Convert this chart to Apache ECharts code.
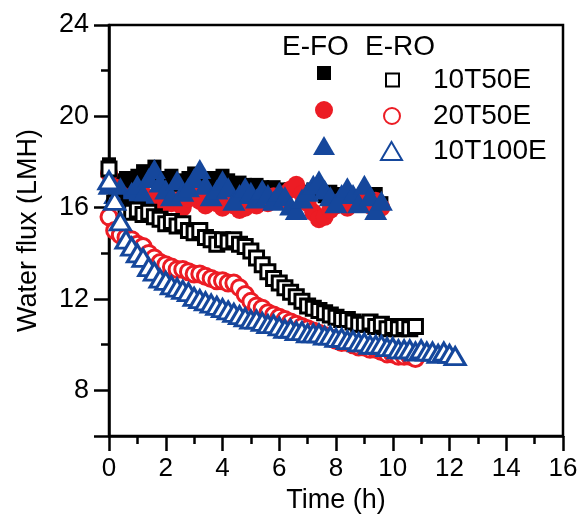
<!DOCTYPE html>
<html><head><meta charset="utf-8">
<script src="https://cdn.jsdelivr.net/npm/echarts@6/dist/echarts.min.js"></script>
<style>html,body{margin:0;padding:0;background:#fff}#c{width:583px;height:519px}</style>
</head><body><div id="c"></div>
<script>
const timeFO = [0,0.2,0.4,0.6,0.8,1.0,1.2,1.4,1.6,1.8,2.0,2.2,2.4,2.6,2.8,3.0,3.2,3.4,3.6,3.8,4.0,4.2,4.4,4.6,4.8,5.0,5.2,5.4,5.6,5.8,6.0,6.2,6.4,6.6,6.8,7.0,7.2,7.4,7.6,7.8,8.0,8.2,8.4,8.6,8.8,9.0,9.2,9.4,9.6];
const fo10T50E = [17.9,17.2,17.0,17.3,17.1,17.4,17.6,17.2,17.8,17.3,17.1,17.4,17.0,17.2,17.3,17.5,17.2,17.0,17.3,17.1,17.4,17.2,16.9,17.1,17.0,16.8,17.0,16.9,16.7,16.9,16.8,16.6,16.8,16.9,16.7,16.6,16.8,16.7,16.5,16.7,16.6,16.4,16.6,16.5,16.4,16.5,16.3,16.6,16.2];
const fo20T50E = [17.5,16.9,16.6,16.4,16.5,16.2,16.6,16.3,16.4,16.1,16.5,16.2,16.3,16.0,16.4,16.7,16.3,16.1,16.4,16.2,16.0,16.3,16.1,15.9,16.0,16.3,16.1,16.4,16.2,16.5,16.3,16.6,16.8,17.0,16.6,16.2,15.8,15.5,15.6,15.9,16.1,16.3,16.0,16.4,16.2,16.5,16.1,16.3,16.0];
const fo10T100E = [17.0,16.6,16.9,16.4,16.7,17.0,16.6,17.3,17.7,17.1,16.8,16.5,17.2,16.7,16.9,17.3,17.7,17.0,16.5,16.8,17.2,16.9,16.3,16.6,16.9,16.7,16.4,16.8,16.6,16.3,16.7,16.5,16.1,15.9,16.4,16.7,17.0,17.2,16.8,16.5,16.2,16.6,16.9,16.6,16.2,17.0,16.5,15.9,16.3];

const timeRO50 = [0,0.2,0.4,0.6,0.8,1.0,1.2,1.4,1.6,1.8,2.0,2.2,2.4,2.6,2.8,3.0,3.2,3.4,3.6,3.8,4.0,4.2,4.4,4.6,4.8,5.0,5.2,5.4,5.6,5.8,6.0,6.2,6.4,6.6,6.8,7.0,7.2,7.4,7.6,7.8,8.0,8.2,8.4,8.6,8.8,9.0,9.2,9.4,9.6,9.8,10.0,10.2,10.4,10.6,10.8];
const ro10T50E = [17.7,16.2,16.0,15.9,15.8,15.9,15.7,15.8,15.6,15.5,15.3,15.4,15.2,15.3,15.0,14.9,15.0,14.7,14.6,14.4,14.6,14.5,14.6,14.4,14.3,14.1,13.8,13.5,13.2,12.9,12.7,12.5,12.3,12.1,11.9,11.7,11.6,11.5,11.4,11.3,11.2,11.1,11.1,11.0,10.9,10.9,11.0,10.8,10.9,10.7,10.8,10.7,10.8,10.7,10.8];
const ro20T50E = [15.6,15.0,14.8,14.7,14.6,14.4,14.3,14.0,13.8,13.6,13.5,13.4,13.3,13.3,13.2,13.1,13.1,13.0,12.9,12.8,12.8,12.7,12.7,12.5,12.2,11.9,11.7,11.6,11.4,11.3,11.2,11.1,11.0,10.9,10.8,10.7,10.6,10.5,10.4,10.3,10.2,10.1,10.1,10.0,9.9,9.9,9.8,9.8,9.7,9.6,9.6,9.5,9.5,9.5,9.4];

const timeRO100 = [0,0.2,0.4,0.6,0.8,1.0,1.2,1.4,1.6,1.8,2.0,2.2,2.4,2.6,2.8,3.0,3.2,3.4,3.6,3.8,4.0,4.2,4.4,4.6,4.8,5.0,5.2,5.4,5.6,5.8,6.0,6.2,6.4,6.6,6.8,7.0,7.2,7.4,7.6,7.8,8.0,8.2,8.4,8.6,8.8,9.0,9.2,9.4,9.6,9.8,10.0,10.2,10.4,10.6,10.8,11.0,11.2,11.4,11.6,11.8,12.0,12.2];
const ro10T100E = [17.2,16.3,15.4,14.6,14.3,14.0,13.8,13.4,13.2,12.9,12.8,12.6,12.5,12.4,12.3,12.1,12.0,11.9,11.8,11.7,11.6,11.5,11.4,11.3,11.2,11.1,11.1,11.0,10.9,10.9,10.8,10.7,10.7,10.6,10.6,10.5,10.5,10.5,10.4,10.4,10.3,10.3,10.2,10.2,10.1,10.1,10.0,10.0,10.0,9.9,9.9,9.8,9.8,9.8,9.7,9.8,9.7,9.7,9.6,9.7,9.6,9.5];

const xTicks = [0,2,4,6,8,10,12,14,16];
const yMajorTicks = [6,8,12,16,20,24];
const yLabelTicks = [8,12,16,20,24];
const yMinorTicks = [10,14,18,22];
const legendLabels = ['10T50E','20T50E','10T100E'];

const BLACK = '#000000', RED = '#ec1c24', BLUE = '#15479c';
const FONT = 'Liberation Sans, Arial, sans-serif';

function pairs(t, v){ return t.map((x,i)=>[x, v[i]]); }

const seriesDefs = [
  {name:'E-FO 10T50E', t:timeFO, v:fo10T50E, symbol:'rect', size:14, color:BLACK, open:false},
  {name:'E-FO 20T50E', t:timeFO, v:fo20T50E, symbol:'circle', size:18, color:RED, open:false},
  {name:'E-FO 10T100E', t:timeFO, v:fo10T100E, symbol:'triangle', size:[23,20], color:BLUE, open:false},
  {name:'E-RO 10T50E', t:timeRO50, v:ro10T50E, symbol:'rect', size:14, color:BLACK, open:true},
  {name:'E-RO 20T50E', t:timeRO50, v:ro20T50E, symbol:'circle', size:16, color:RED, open:true},
  {name:'E-RO 10T100E', t:timeRO100, v:ro10T100E, symbol:'triangle', size:[20,17], color:BLUE, open:true}
];

const series = seriesDefs.map(d => ({
  type:'scatter', name:d.name, data:pairs(d.t, d.v),
  symbol:d.symbol, symbolSize:d.size, animation:false,
  itemStyle: d.open ? {color:'#ffffff', borderColor:d.color, borderWidth:3, opacity:1}
                    : {color:d.color, opacity:1}
}));

const legendPos = [
  {name:'E-FO 10T50E', left:317, top:66, w:14, h:14},
  {name:'E-FO 20T50E', left:315, top:101, w:18, h:18},
  {name:'E-FO 10T100E', left:313, top:136, w:22, h:19},
  {name:'E-RO 10T50E', left:385, top:66, w:13, h:13, label:legendLabels[0], pad:29},
  {name:'E-RO 20T50E', left:383, top:102, w:16, h:16, label:legendLabels[1], pad:28},
  {name:'E-RO 10T100E', left:380, top:137, w:21, h:18, label:legendLabels[2], pad:26}
];
const legends = legendPos.map(l => ({
  data:[l.name], left:l.left, top:l.top, padding:0, itemWidth:l.w, itemHeight:l.h,
  selectedMode:false, orient:'vertical',
  formatter: l.label ? ('{a|' + l.label + '}') : (() => ''),
  textStyle:{fontFamily:FONT, fontSize:28, color:'#000', rich:{a:{fontFamily:FONT, fontSize:28, color:'#000', padding:[0,0,0,l.pad||0]}}}
}));

const chart = echarts.init(document.getElementById('c'), null, {renderer:'canvas'});
chart.setOption({
  animation:false,
  backgroundColor:'#fff',
  grid:{left:109, right:20, top:25, bottom:79, show:true, borderColor:'#000', borderWidth:2.5, backgroundColor:'transparent'},
  legend: legends,
  graphic:[
    {type:'text', left:282, top:33, style:{text:'E-FO', font:'28px ' + FONT, fill:'#000'}},
    {type:'text', left:365, top:33, style:{text:'E-RO', font:'28px ' + FONT, fill:'#000'}}
  ],
  xAxis:{
    type:'value', min:0, max:16, interval:2,
    name:'Time (h)', nameLocation:'middle', nameGap:43,
    nameTextStyle:{fontFamily:FONT, fontSize:27, color:'#000'},
    axisLine:{show:true, onZero:false, lineStyle:{color:'#000', width:2.5}},
    axisTick:{show:true, inside:false, length:15, lineStyle:{color:'#000', width:2.5}},
    minorTick:{show:true, splitNumber:2, length:8, lineStyle:{color:'#000', width:2.5}},
    axisLabel:{fontFamily:FONT, fontSize:26, color:'#000', margin:20, customValues:xTicks},
    splitLine:{show:false}
  },
  yAxis:[{
    type:'value', min:6, max:24, interval:2,
    name:'Water flux (LMH)', nameLocation:'middle', nameGap:67,
    nameTextStyle:{fontFamily:FONT, fontSize:27, color:'#000'},
    axisLine:{show:true, onZero:false, lineStyle:{color:'#000', width:2.5}},
    axisTick:{show:true, length:15, customValues:yMajorTicks, lineStyle:{color:'#000', width:2.5}},
    axisLabel:{fontFamily:FONT, fontSize:27, color:'#000', margin:20, customValues:yLabelTicks},
    splitLine:{show:false}
  },{
    type:'value', min:6, max:24, interval:2, position:'left',
    axisLine:{show:false},
    axisTick:{show:true, length:8, customValues:yMinorTicks, lineStyle:{color:'#000', width:2.5}},
    axisLabel:{show:false},
    splitLine:{show:false}
  }],
  series: series
});
</script></body></html>
